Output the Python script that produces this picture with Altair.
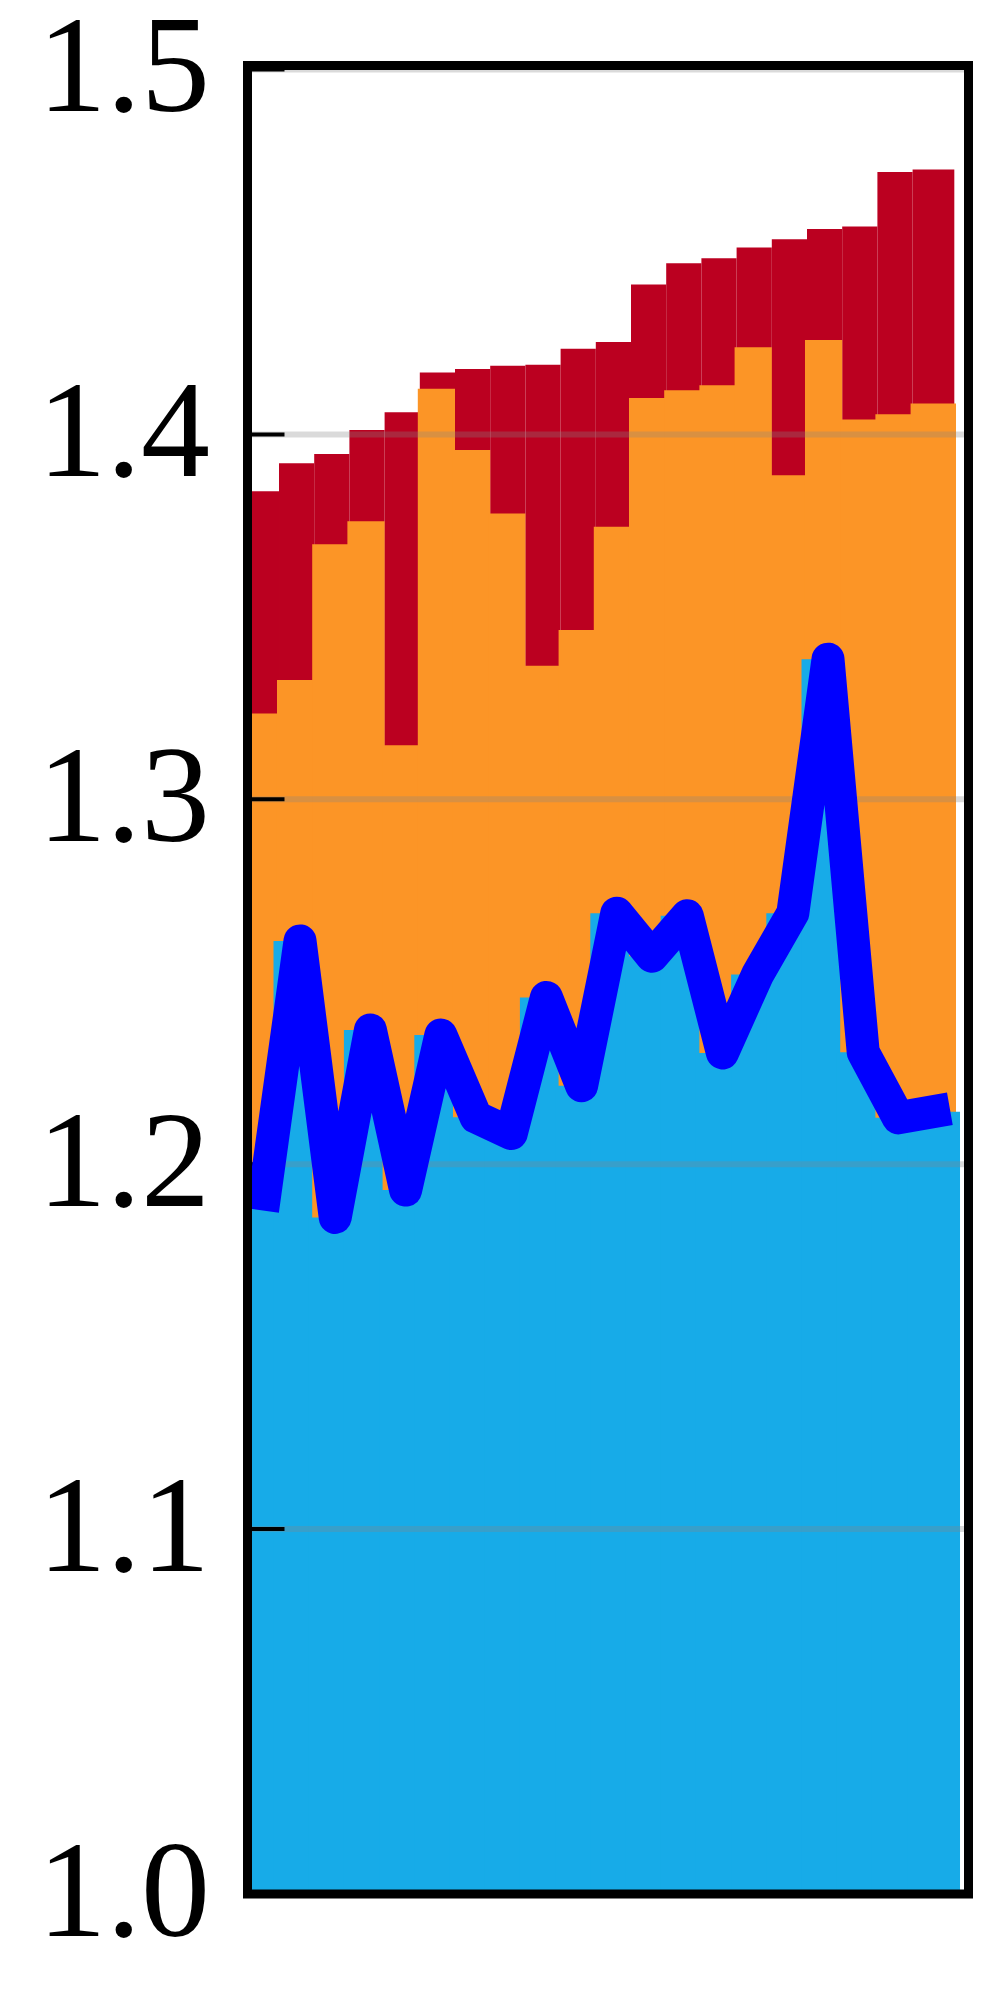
import altair as alt
import pandas as pd

# ---- data ----
idx = list(range(20))
red_vals = [1.3844, 1.3921, 1.3946, 1.4012, 1.4061, 1.4170, 1.4179, 1.4188, 1.4191, 1.4235,
            1.4253, 1.4411, 1.4469, 1.4483, 1.4512, 1.4535, 1.4563, 1.4570, 1.4719, 1.4726]
orange_vals = [1.3235, 1.3327, 1.3699, 1.3762, 1.3148, 1.4125, 1.3957, 1.3783, 1.3366, 1.3464,
               1.3747, 1.4100, 1.4121, 1.4135, 1.4239, 1.3888, 1.4259, 1.4041, 1.4055, 1.4085]
cyan_vals = [1.1918, 1.2612, 1.1854, 1.2368, 1.1929, 1.2354, 1.2129, 1.2084, 1.2457, 1.2215,
             1.2688, 1.2570, 1.2681, 1.2305, 1.2520, 1.2688, 1.3384, 1.2307, 1.2127, 1.2144]
line_vals = [1.1918, 1.2612, 1.1854, 1.2368, 1.1929, 1.2354, 1.2129, 1.2084, 1.2457, 1.2215,
             1.2688, 1.2570, 1.2681, 1.2305, 1.2520, 1.2688, 1.3384, 1.2307, 1.2127, 1.2144]
y_ticks = [1.0, 1.1, 1.2, 1.3, 1.4, 1.5]

N = len(idx)
W = 721
H = 1828.5

df = pd.DataFrame({"i": idx, "red": red_vals, "orange": orange_vals,
                   "cyan": cyan_vals, "line": line_vals})
ticks_df = pd.DataFrame({"t": y_ticks})

xs = alt.Scale(domain=[0.105, 20.588], nice=False, zero=False)
ys = alt.Scale(domain=[1.0, 1.5011], nice=False, zero=False)
yax = alt.Axis(values=y_ticks, format=".1f",
               labelFont="Liberation Serif, Times New Roman, Times, serif",
               labelFontSize=138, labelFontWeight="normal", labelColor="black",
               labelPadding=38, ticks=False, domain=False, grid=False, title=None)

base = alt.Chart(df)


def bars(field, color, rise, fall, ext):
    return base.transform_calculate(
        x0=f"datum.i + ({rise})",
        x1=f"datum.i + 1 + ({fall}) + (datum.i == {N - 1} ? {ext} : 0)",
    ).mark_rect(color=color, clip=True).encode(
        x=alt.X("x0:Q", scale=xs, axis=None),
        x2="x1:Q",
        y=alt.Y(f"{field}:Q", scale=ys, axis=yax),
        y2=alt.datum(1.0),
    )


red = bars("red", "#BB0020", 0, 0, 0.185)
orange = bars("orange", "#FC9526", -0.057, 0, 0.233)
cyan = bars("cyan", "#17ABE8", -0.156, -0.057, 0.404)

grid = alt.Chart(ticks_df).mark_rule(color="#868686", opacity=0.3, strokeWidth=6).encode(
    y=alt.Y("t:Q", scale=ys, axis=yax)
)
tick_marks = alt.Chart(ticks_df).mark_rule(color="black", strokeWidth=4).encode(
    y=alt.Y("t:Q", scale=ys, axis=yax),
    x=alt.value(0),
    x2=alt.value(37),
)

line = base.transform_calculate(xc="datum.i + 0.597").mark_line(
    color="#0000FF", strokeWidth=33, strokeCap="square", strokeJoin="round", clip=True
).encode(
    x=alt.X("xc:Q", scale=xs, axis=None),
    y=alt.Y("line:Q", scale=ys, axis=yax),
)

frame = alt.Chart(pd.DataFrame({"a": [0]})).mark_rect(
    fill="white", fillOpacity=0, stroke="black", strokeWidth=9
).encode(
    x=alt.value(0), x2=alt.value(W), y=alt.value(0), y2=alt.value(H)
)

chart = alt.layer(red, orange, cyan, grid, tick_marks, line, frame).properties(
    width=W,
    height=H,
    autosize=alt.AutoSizeParams(type="none"),
    padding={"left": 239.5, "top": 57.5, "right": 18.5, "bottom": 90},
).configure_view(strokeWidth=0)

chart.save("out.html", embed_options={"renderer": "svg", "actions": False})
